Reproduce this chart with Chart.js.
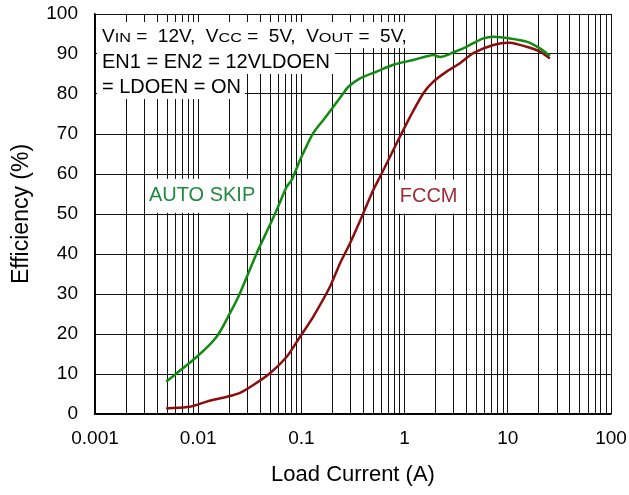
<!DOCTYPE html>
<html lang="en">
<head>
  <meta charset="UTF-8" />
  <title>Efficiency vs Load Current</title>
  <script src="https://cdn.jsdelivr.net/npm/chart.js"></script>
  <style>
    html, body { margin: 0; padding: 0; background: #fff; }
    #effChart { display: block; }
  </style>
</head>
<body>
  <canvas id="effChart" width="629" height="495"></canvas>

  <script>
    // AUTO SKIP mode: load current (A) and efficiency (%)
    const skipCurrent = [0.0049, 0.0097, 0.0151, 0.0203, 0.0254, 0.0369, 0.0496, 0.0576, 0.072, 0.0805,
      0.097, 0.104, 0.130, 0.163, 0.204, 0.255, 0.285, 0.370, 0.536, 0.777,
      1.21, 1.9, 2.16, 2.37, 2.96, 3.98, 4.63, 5.79, 7.24, 10.5, 15.2, 20.5, 25.6];
    const skipEff = [8.1, 14.3, 19.3, 25.2, 30.2, 40.2, 47.3, 51, 56.8, 58.5,
      63.5, 65.2, 70.2, 73.5, 76.8, 80.2, 81.8, 83.9, 85.6, 87.3,
      88.5, 89.75, 89.3, 89.4, 90.4, 91.8, 92.7, 93.9, 94.3, 93.9, 93.1, 91.4, 89.5];

    // FCCM mode
    const fccmCurrent = [0.0049, 0.0083, 0.0121, 0.0189, 0.0254, 0.0342, 0.0496, 0.072, 0.097, 0.130,
      0.189, 0.237, 0.296, 0.398, 0.497, 0.578, 0.722, 0.90, 1.13, 1.52,
      1.9, 2.55, 3.44, 4.63, 7.24, 10.5, 15.2, 20.5, 25.6];
    const fccmEff = [1.4, 1.8, 3.1, 4.3, 5.3, 7.25, 10.2, 14.3, 19.3, 24.3,
      31.8, 37.7, 42.7, 50.2, 56, 59.3, 64.3, 69.3, 74.3, 80.2,
      83.1, 85.6, 87.7, 90.2, 92.25, 92.8, 91.8, 90.6, 88.9];

    const decades = [0.001, 0.01, 0.1, 1, 10, 100];
    const yTicks = [0, 10, 20, 30, 40, 50, 60, 70, 80, 90, 100];

    const FONT = "'Liberation Sans', Arial, sans-serif";

    const toPoints = (xs, ys) => xs.map((x, i) => ({ x: x, y: ys[i] }));

    // every 1..9 x 10^k line for the log grid
    function logGridTicks() {
      const ticks = [];
      for (let d = 0; d < decades.length - 1; d++) {
        for (let m = 1; m <= 9; m++) ticks.push({ value: +(decades[d] * m).toPrecision(3) });
      }
      ticks.push({ value: decades[decades.length - 1] });
      return ticks;
    }

    // parts: [text, size, subscript?]; subscripts are drawn a bit wider than tall
    const SUB_STRETCH = 1.3;
    function partWidth(ctx, p) {
      ctx.font = p[1] + "px " + FONT;
      return ctx.measureText(p[0]).width * (p[2] ? SUB_STRETCH : 1);
    }

    function textBox(ctx, parts, x, y, padR) {
      const w = parts.reduce((s, p) => s + partWidth(ctx, p), 0);
      ctx.fillStyle = "#fff";
      ctx.fillRect(x - 5, y - 20, w + 5 + padR, 26);
      ctx.fillStyle = "#000";
      ctx.textBaseline = "alphabetic";
      ctx.textAlign = "left";
      let cx = x;
      parts.forEach(p => {
        const pw = partWidth(ctx, p);
        ctx.save();
        ctx.translate(cx, y);
        if (p[2]) ctx.scale(SUB_STRETCH, 1);
        ctx.fillText(p[0], 0, 0);
        ctx.restore();
        cx += pw;
      });
    }

    function modeLabel(ctx, chart, text, xv, yv, color) {
      const x = chart.scales.x.getPixelForValue(xv);
      const y = chart.scales.y.getPixelForValue(yv);
      ctx.font = "20px " + FONT;
      const w = ctx.measureText(text).width;
      ctx.fillStyle = "#fff";
      ctx.fillRect(x - w / 2 - 3, y - 22, w + 6, 34);
      ctx.fillStyle = color;
      ctx.textAlign = "center";
      ctx.textBaseline = "alphabetic";
      ctx.fillText(text, x, y);
    }

    const notes = {
      id: "notes",
      beforeDatasetsDraw(chart) {
        const ctx = chart.ctx;
        const a = chart.chartArea;
        ctx.save();
        const x0 = a.left + 7;
        textBox(ctx, [["V", 19], ["IN", 12.5, true], [" =  12V,  V", 19], ["CC", 12.5, true],
          [" =  5V,  V", 19], ["OUT", 12.5, true], [" =  5V,", 19]], x0, 42, 4);
        textBox(ctx, [["EN1 = EN2 = 12VLDOEN", 20]], x0, 68, 5);
        textBox(ctx, [["= LDOEN = ON", 20]], x0, 93, 4);
        modeLabel(ctx, chart, "AUTO SKIP", 0.0109, 53.3, "#1f8a3f");
        modeLabel(ctx, chart, "FCCM", 1.71, 53.1, "#9c2b34");
        ctx.restore();
      }
    };

    new Chart(document.getElementById("effChart").getContext("2d"), {
      type: "line",
      data: {
        datasets: [
          {
            label: "AUTO SKIP",
            data: toPoints(skipCurrent, skipEff),
            borderColor: "#118a11",
            borderWidth: 2.5,
            pointRadius: 0,
            tension: 0.25
          },
          {
            label: "FCCM",
            data: toPoints(fccmCurrent, fccmEff),
            borderColor: "#8c0d0d",
            borderWidth: 2.5,
            pointRadius: 0,
            tension: 0.25
          }
        ]
      },
      options: {
        responsive: false,
        animation: false,
        layout: { padding: { top: 14, right: 18, left: 0, bottom: 0 } },
        plugins: {
          legend: { display: false },
          tooltip: { enabled: false }
        },
        scales: {
          x: {
            type: "logarithmic",
            min: 0.001,
            max: 100,
            afterBuildTicks: scale => { scale.ticks = logGridTicks(); },
            afterFit: scale => {
              scale.height = 81;
              scale.paddingLeft = 0;
              scale.paddingRight = 0;
            },
            grid: { color: "#111", lineWidth: 1, drawTicks: false },
            border: { color: "#000", width: 1.5 },
            ticks: {
              autoSkip: false,
              maxRotation: 0,
              padding: 13,
              color: "#000",
              font: { family: FONT, size: 19 },
              callback: v => decades.includes(v) ? String(v) : ""
            },
            title: {
              display: true,
              text: "Load Current (A)",
              color: "#000",
              font: { family: FONT, size: 22 },
              padding: { top: 0, bottom: 7 }
            }
          },
          y: {
            min: 0,
            max: 100,
            afterBuildTicks: scale => { scale.ticks = yTicks.map(v => ({ value: v })); },
            afterFit: scale => {
              scale.width = 95;
              scale.paddingTop = 0;
              scale.paddingBottom = 0;
            },
            grid: { color: "#111", lineWidth: 1, drawTicks: false },
            border: { color: "#000", width: 1.5 },
            ticks: {
              padding: 17,
              color: "#000",
              font: { family: FONT, size: 19 }
            },
            title: {
              display: true,
              text: "Efficiency (%)",
              color: "#000",
              font: { family: FONT, size: 23 },
              padding: { top: 8, bottom: 0 }
            }
          }
        }
      },
      plugins: [notes]
    });
  </script>
</body>
</html>
